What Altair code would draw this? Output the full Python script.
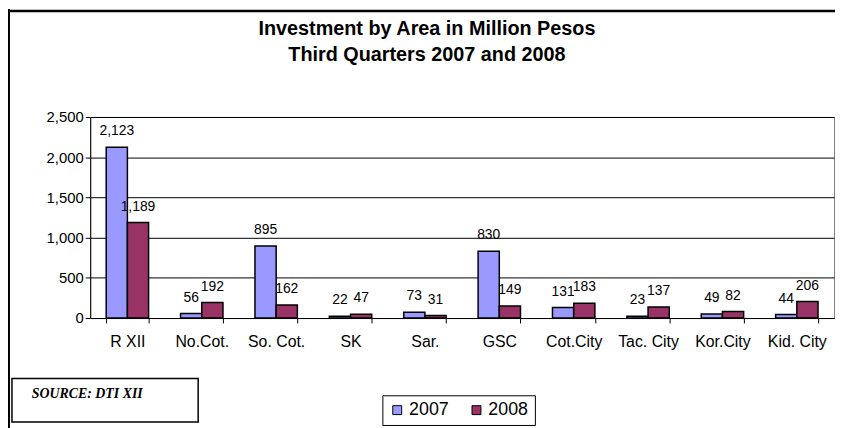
import altair as alt
import pandas as pd

# ---- data ----
areas = ["R XII", "No.Cot.", "So. Cot.", "SK", "Sar.", "GSC",
         "Cot.City", "Tac. City", "Kor.City", "Kid. City"]
inv_2007 = [2123, 56, 895, 22, 73, 830, 131, 23, 49, 44]
inv_2008 = [1189, 192, 162, 47, 31, 149, 183, 137, 82, 206]
years = ["2007", "2008"]
colors = ["#9999FF", "#993366"]
y_ticks = [0, 500, 1000, 1500, 2000, 2500]
title_line1 = "Investment by Area in Million Pesos"
title_line2 = "Third Quarters 2007 and 2008"
source_text = "SOURCE:  DTI XII"

rows = []
for a, v7, v8 in zip(areas, inv_2007, inv_2008):
    rows.append({"Area": a, "Year": "2007", "Value": v7})
    rows.append({"Area": a, "Year": "2008", "Value": v8})
df = pd.DataFrame(rows)

W, H = 751, 203
FONT = "Liberation Sans, Arial, sans-serif"

xenc = alt.X("Area:N", sort=areas,
             scale=alt.Scale(paddingInner=0.43, paddingOuter=0.215),
             axis=alt.Axis(title=None, labelAngle=0, labelFontSize=16, labelFont=FONT,
                           labelColor="black", tickBand="extent", tickSize=5,
                           tickColor="black", domainColor="black", labelPadding=11,
                           labelOverlap=False, grid=False))
yenc = alt.Y("Value:Q", scale=alt.Scale(domain=[0, 2500], nice=False),
             axis=alt.Axis(title=None, values=y_ticks, format=",.0f", labelFontSize=15,
                           labelFont=FONT, labelColor="black", tickSize=5,
                           tickColor="black", domainColor="black", gridColor="black",
                           gridWidth=1, labelPadding=2))
off = alt.XOffset("Year:N", sort=years, scale=alt.Scale(paddingInner=0, paddingOuter=0))

base = alt.Chart(df)

bars = base.mark_bar(stroke="black", strokeWidth=1.5).encode(
    x=xenc, y=yenc, xOffset=off,
    color=alt.Color("Year:N", sort=years,
                    scale=alt.Scale(domain=years, range=colors),
                    legend=alt.Legend(title=None, orient="none", legendX=295, legendY=281,
                                      direction="horizontal", strokeColor="black",
                                      fillColor="white", padding=6, symbolType="square",
                                      symbolSize=81, symbolStrokeColor="black",
                                      symbolStrokeWidth=1, labelFontSize=18,
                                      labelFont=FONT, labelColor="black", labelOffset=3,
                                      columnPadding=18)),
)

labels = base.mark_text(baseline="alphabetic", dy=-12, fontSize=14, font=FONT,
                        color="black").encode(
    x=alt.X("Area:N", sort=areas), y=alt.Y("Value:Q"), xOffset=off,
    text=alt.Text("Value:Q", format=",.0f"),
)

one = pd.DataFrame({"k": [0]})

frame_top = alt.Chart(one).mark_rule(color="black", strokeWidth=2.5).encode(
    x=alt.value(-84), x2=alt.value(752), y=alt.value(-107))
frame_left = alt.Chart(one).mark_rule(color="black", strokeWidth=2).encode(
    x=alt.value(-82), y=alt.value(-109), y2=alt.value(320))

def title_text(txt, ypos):
    return alt.Chart(pd.DataFrame({"t": [txt]})).mark_text(
        fontSize=20, fontWeight="bold", font=FONT, color="black", align="center",
        baseline="alphabetic").encode(text="t:N", x=alt.value(340), y=alt.value(ypos))

t1 = title_text(title_line1, -83)
t2 = title_text(title_line2, -57)

src_box = alt.Chart(one).mark_rect(fill="white", stroke="black", strokeWidth=1.5).encode(
    x=alt.value(-79), x2=alt.value(109), y=alt.value(264), y2=alt.value(308))
src_text = alt.Chart(pd.DataFrame({"s": [source_text]})).mark_text(
    font="Liberation Serif, Times New Roman, serif", fontSize=14, fontWeight="bold",
    fontStyle="italic", align="left", baseline="alphabetic", color="black").encode(
    text="s:N", x=alt.value(-59), y=alt.value(284))

chart = alt.layer(frame_top, frame_left, bars, labels, t1, t2, src_box, src_text).properties(
    width=W, height=H,
    autosize=alt.AutoSizeParams(type="none"),
    padding={"left": 83, "top": 108, "right": 1, "bottom": 109},
    background="white",
).configure_view(stroke="#808080")

chart.save("out.html", embed_options={"renderer": "svg", "actions": False})
